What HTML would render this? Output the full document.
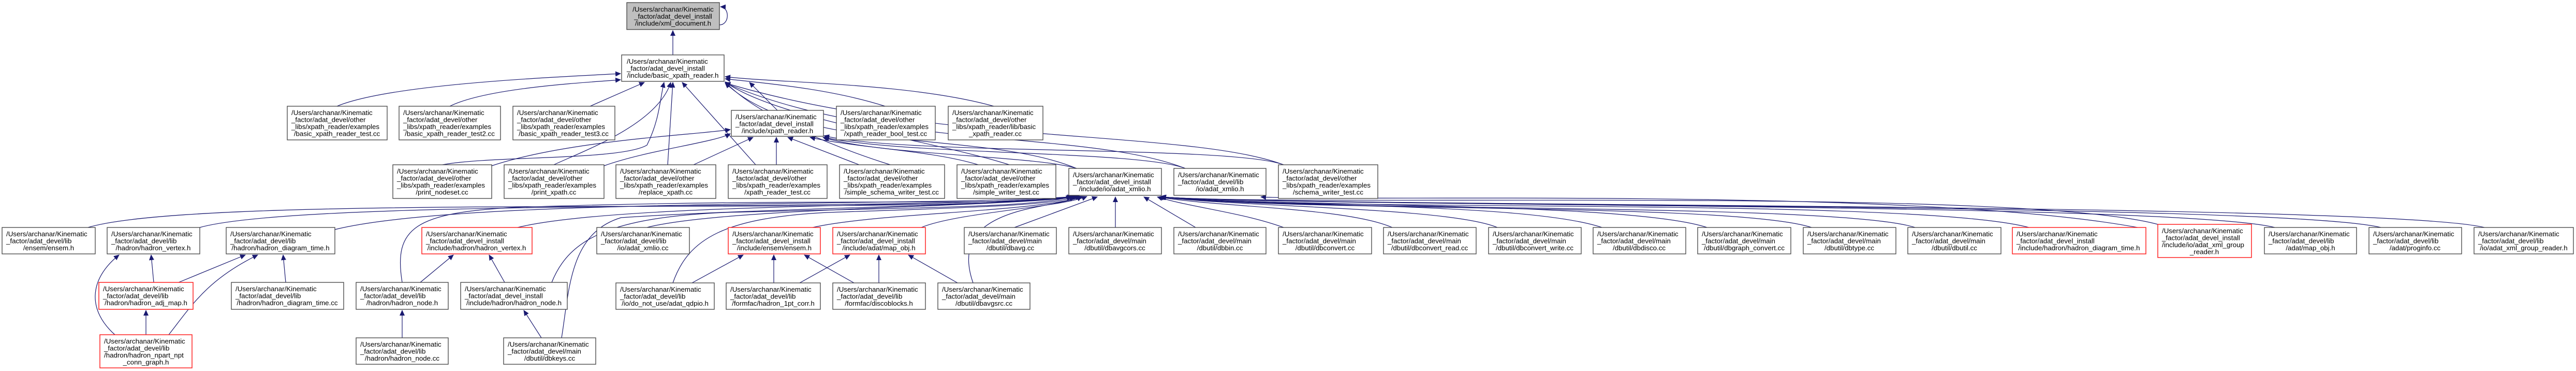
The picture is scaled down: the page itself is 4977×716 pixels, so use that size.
<!DOCTYPE html>
<html><head><meta charset="utf-8"><style>
html,body{margin:0;padding:0;background:#fff}
svg{display:block}
text{font-family:"Liberation Sans",Arial,sans-serif;font-size:13.3px;fill:#000}
.b{fill:#fff;stroke:#404040;stroke-width:1.3}
.r{fill:#fff;stroke:#ff2020;stroke-width:1.5}
.g{fill:#bfbfbf;stroke:#404040;stroke-width:1.3}
.e{fill:none;stroke:#191970;stroke-width:1.2}
</style></head><body>
<svg width="4977" height="716" viewBox="0 0 4977 716" xmlns="http://www.w3.org/2000/svg">
<defs><marker id="a" markerWidth="12" markerHeight="12" refX="10" refY="5" orient="auto" markerUnits="userSpaceOnUse"><path d="M0,0 L11,5 L0,10 Z" fill="#191970"/></marker></defs>
<g class="edges">
<path class="e" marker-end="url(#a)" d="M1300,106 L1300,59"/>
<path class="e" marker-end="url(#a)" d="M1390,48 C1410,48 1410,14 1392,13"/>
<path class="e" marker-end="url(#a)" d="M651,205 C760,160 1100,148 1199,142"/>
<path class="e" marker-end="url(#a)" d="M869,205 C940,170 1120,160 1199,154"/>
<path class="e" marker-end="url(#a)" d="M1140,205 L1245,159"/>
<path class="e" marker-end="url(#a)" d="M1502,213 L1448,159"/>
<path class="e" marker-end="url(#a)" d="M1710,205 C1600,170 1470,160 1401,152"/>
<path class="e" marker-end="url(#a)" d="M1920,205 C1760,160 1500,160 1401,148"/>
<path class="e" marker-end="url(#a)" d="M855,318 C950,300 1200,310 1250,280 C1275,230 1275,190 1283,159"/>
<path class="e" marker-end="url(#a)" d="M1070,318 C1130,290 1270,240 1296,159"/>
<path class="e" marker-end="url(#a)" d="M1290,318 L1300,159"/>
<path class="e" marker-end="url(#a)" d="M1460,318 L1318,159"/>
<path class="e" marker-end="url(#a)" d="M1720,318 C1600,280 1460,220 1401,158"/>
<path class="e" marker-end="url(#a)" d="M1950,318 C1800,270 1500,230 1401,158"/>
<path class="e" marker-end="url(#a)" d="M2080,325 C1900,250 1550,300 1401,160"/>
<path class="e" marker-end="url(#a)" d="M2290,325 C2100,250 1700,290 1401,160"/>
<path class="e" marker-end="url(#a)" d="M2480,318 C2300,250 1800,280 1401,160"/>
<path class="e" marker-end="url(#a)" d="M950,320 C1100,270 1350,260 1411,250"/>
<path class="e" marker-end="url(#a)" d="M1167,320 C1250,290 1380,275 1411,258"/>
<path class="e" marker-end="url(#a)" d="M1340,318 L1455,265"/>
<path class="e" marker-end="url(#a)" d="M1500,318 L1500,265"/>
<path class="e" marker-end="url(#a)" d="M1660,318 L1522,265"/>
<path class="e" marker-end="url(#a)" d="M1890,318 C1800,290 1650,285 1565,265"/>
<path class="e" marker-end="url(#a)" d="M2080,325 C2000,300 1700,300 1590,265"/>
<path class="e" marker-end="url(#a)" d="M2290,325 C2200,290 1750,300 1592,265"/>
<path class="e" marker-end="url(#a)" d="M2480,318 C2380,280 1750,300 1592,262"/>
<path class="e" marker-end="url(#a)" d="M170,439 C400,370 1800,420 2078,379"/>
<path class="e" marker-end="url(#a)" d="M386,439 C600,380 1800,410 2080,379"/>
<path class="e" marker-end="url(#a)" d="M647,443 C900,380 1800,400 2082,379"/>
<path class="e" marker-end="url(#a)" d="M1000,439 C1200,390 1900,400 2085,379"/>
<path class="e" marker-end="url(#a)" d="M1250,439 C1400,400 1950,400 2088,379"/>
<path class="e" marker-end="url(#a)" d="M1570,439 C1700,410 2000,410 2092,379"/>
<path class="e" marker-end="url(#a)" d="M1780,439 C1850,410 2050,400 2100,379"/>
<path class="e" marker-end="url(#a)" d="M1960,439 L2120,380"/>
<path class="e" marker-end="url(#a)" d="M2155,439 L2155,380"/>
<path class="e" marker-end="url(#a)" d="M2310,439 L2210,380"/>
<path class="e" marker-end="url(#a)" d="M2480,439 C2400,410 2300,400 2236,380"/>
<path class="e" marker-end="url(#a)" d="M2690,439 C2600,400 2350,400 2238,380"/>
<path class="e" marker-end="url(#a)" d="M2893,439 C2800,400 2400,400 2240,380"/>
<path class="e" marker-end="url(#a)" d="M3095,439 C2950,390 2450,400 2241,380"/>
<path class="e" marker-end="url(#a)" d="M3298,439 C3150,390 2500,400 2242,380"/>
<path class="e" marker-end="url(#a)" d="M3500,439 C3350,390 2500,410 2242,380"/>
<path class="e" marker-end="url(#a)" d="M3700,439 C3550,390 2500,410 2243,380"/>
<path class="e" marker-end="url(#a)" d="M3920,439 C3700,380 2500,410 2243,380"/>
<path class="e" marker-end="url(#a)" d="M4169,433 C3900,360 2500,400 2243,380"/>
<path class="e" marker-end="url(#a)" d="M4395,439 C4200,390 2500,400 2243,380"/>
<path class="e" marker-end="url(#a)" d="M4600,439 C4400,390 2500,400 2243,380"/>
<path class="e" marker-end="url(#a)" d="M4800,439 C4600,390 2500,400 2243,380"/>
<path class="e" marker-end="url(#a)" d="M4130,439 C3700,360 2600,390 2436,380"/>
<path class="e" marker-end="url(#a)" d="M777,545 C760,440 800,410 1000,400 C1600,380 2000,400 2070,379"/>
<path class="e" marker-end="url(#a)" d="M1066,545 C1100,460 1180,420 1400,410 C1800,400 2000,400 2072,379"/>
<path class="e" marker-end="url(#a)" d="M1300,546 C1330,460 1400,420 1600,410 C1900,400 2050,395 2075,379"/>
<path class="e" marker-end="url(#a)" d="M1880,546 C1850,460 1900,420 2000,400 C2050,390 2080,385 2090,379"/>
<path class="e" marker-end="url(#a)" d="M1085,652 C1100,560 1100,450 1200,420 C1500,400 1900,400 2072,379"/>
<path class="e" marker-end="url(#a)" d="M297,545 L292,492"/>
<path class="e" marker-end="url(#a)" d="M222,646 C170,600 170,540 230,492"/>
<path class="e" marker-end="url(#a)" d="M345,545 L474,492"/>
<path class="e" marker-end="url(#a)" d="M326,646 C370,590 400,540 498,492"/>
<path class="e" marker-end="url(#a)" d="M552,545 L547,492"/>
<path class="e" marker-end="url(#a)" d="M282,646 L282,599"/>
<path class="e" marker-end="url(#a)" d="M812,545 L876,492"/>
<path class="e" marker-end="url(#a)" d="M975,545 L945,492"/>
<path class="e" marker-end="url(#a)" d="M777,652 L777,599"/>
<path class="e" marker-end="url(#a)" d="M1046,652 L1012,599"/>
<path class="e" marker-end="url(#a)" d="M1337,546 L1436,492"/>
<path class="e" marker-end="url(#a)" d="M1495,546 L1495,492"/>
<path class="e" marker-end="url(#a)" d="M1650,546 L1554,492"/>
<path class="e" marker-end="url(#a)" d="M1545,546 L1642,492"/>
<path class="e" marker-end="url(#a)" d="M1698,546 L1698,492"/>
<path class="e" marker-end="url(#a)" d="M1850,546 L1755,492"/>
</g>

<!-- Row 1 -->
<rect class="g" x="1211" y="5" width="179" height="52"/>
<text x="1300.5" y="22.5" text-anchor="middle">/Users/archanar/Kinematic</text>
<text x="1300.5" y="36" text-anchor="middle">_factor/adat_devel_install</text>
<text x="1300.5" y="49.5" text-anchor="middle">/include/xml_document.h</text>

<!-- Row 2 -->
<rect class="b" x="1201" y="106" width="198" height="51"/>
<text x="1211" y="123">/Users/archanar/Kinematic</text>
<text x="1211" y="136.5">_factor/adat_devel_install</text>
<text x="1300" y="150" text-anchor="middle">/include/basic_xpath_reader.h</text>

<!-- Row 3 -->
<rect class="b" x="555" y="205" width="193" height="65"/>
<text x="563" y="222">/Users/archanar/Kinematic</text><text x="563" y="235.5">_factor/adat_devel/other</text><text x="563" y="249">_libs/xpath_reader/examples</text><text x="651" y="262.5" text-anchor="middle">/basic_xpath_reader_test.cc</text>
<rect class="b" x="771" y="205" width="196" height="65"/>
<text x="779" y="222">/Users/archanar/Kinematic</text><text x="779" y="235.5">_factor/adat_devel/other</text><text x="779" y="249">_libs/xpath_reader/examples</text><text x="869" y="262.5" text-anchor="middle">/basic_xpath_reader_test2.cc</text>
<rect class="b" x="991" y="205" width="197" height="65"/>
<text x="999" y="222">/Users/archanar/Kinematic</text><text x="999" y="235.5">_factor/adat_devel/other</text><text x="999" y="249">_libs/xpath_reader/examples</text><text x="1089" y="262.5" text-anchor="middle">/basic_xpath_reader_test3.cc</text>
<rect class="b" x="1413" y="213" width="178" height="50"/>
<text x="1421" y="230">/Users/archanar/Kinematic</text><text x="1421" y="243.5">_factor/adat_devel_install</text><text x="1502" y="257" text-anchor="middle">/include/xpath_reader.h</text>
<rect class="b" x="1616" y="205" width="191" height="65"/>
<text x="1624" y="222">/Users/archanar/Kinematic</text><text x="1624" y="235.5">_factor/adat_devel/other</text><text x="1624" y="249">_libs/xpath_reader/examples</text><text x="1711" y="262.5" text-anchor="middle">/xpath_reader_bool_test.cc</text>
<rect class="b" x="1832" y="205" width="183" height="65"/>
<text x="1840" y="222">/Users/archanar/Kinematic</text><text x="1840" y="235.5">_factor/adat_devel/other</text><text x="1840" y="249">_libs/xpath_reader/lib/basic</text><text x="1923" y="262.5" text-anchor="middle">_xpath_reader.cc</text>

<!-- Row 4 -->
<rect class="b" x="759" y="318" width="191" height="65"/>
<text x="767" y="335">/Users/archanar/Kinematic</text><text x="767" y="348.5">_factor/adat_devel/other</text><text x="767" y="362">_libs/xpath_reader/examples</text><text x="854" y="375.5" text-anchor="middle">/print_nodeset.cc</text>
<rect class="b" x="974" y="318" width="193" height="65"/>
<text x="982" y="335">/Users/archanar/Kinematic</text><text x="982" y="348.5">_factor/adat_devel/other</text><text x="982" y="362">_libs/xpath_reader/examples</text><text x="1070" y="375.5" text-anchor="middle">/print_xpath.cc</text>
<rect class="b" x="1190" y="318" width="193" height="65"/>
<text x="1198" y="335">/Users/archanar/Kinematic</text><text x="1198" y="348.5">_factor/adat_devel/other</text><text x="1198" y="362">_libs/xpath_reader/examples</text><text x="1286" y="375.5" text-anchor="middle">/replace_xpath.cc</text>
<rect class="b" x="1407" y="318" width="191" height="65"/>
<text x="1415" y="335">/Users/archanar/Kinematic</text><text x="1415" y="348.5">_factor/adat_devel/other</text><text x="1415" y="362">_libs/xpath_reader/examples</text><text x="1502" y="375.5" text-anchor="middle">/xpath_reader_test.cc</text>
<rect class="b" x="1622" y="318" width="203" height="65"/>
<text x="1630" y="335">/Users/archanar/Kinematic</text><text x="1630" y="348.5">_factor/adat_devel/other</text><text x="1630" y="362">_libs/xpath_reader/examples</text><text x="1723" y="375.5" text-anchor="middle">/simple_schema_writer_test.cc</text>
<rect class="b" x="1849" y="318" width="191" height="65"/>
<text x="1857" y="335">/Users/archanar/Kinematic</text><text x="1857" y="348.5">_factor/adat_devel/other</text><text x="1857" y="362">_libs/xpath_reader/examples</text><text x="1944" y="375.5" text-anchor="middle">/simple_writer_test.cc</text>
<rect class="b" x="2065" y="325" width="179" height="52"/>
<text x="2073" y="342">/Users/archanar/Kinematic</text><text x="2073" y="355.5">_factor/adat_devel_install</text><text x="2154" y="369" text-anchor="middle">/include/io/adat_xmlio.h</text>
<rect class="b" x="2268" y="325" width="178" height="52"/>
<text x="2276" y="342">/Users/archanar/Kinematic</text><text x="2276" y="355.5">_factor/adat_devel/lib</text><text x="2357" y="369" text-anchor="middle">/io/adat_xmlio.h</text>
<rect class="b" x="2470" y="318" width="192" height="65"/>
<text x="2478" y="335">/Users/archanar/Kinematic</text><text x="2478" y="348.5">_factor/adat_devel/other</text><text x="2478" y="362">_libs/xpath_reader/examples</text><text x="2566" y="375.5" text-anchor="middle">/schema_writer_test.cc</text>

<!-- Row 5 -->
<rect class="b" x="4" y="439" width="180" height="51"/>
<text x="12" y="456">/Users/archanar/Kinematic</text><text x="12" y="469.5">_factor/adat_devel/lib</text><text x="94" y="483" text-anchor="middle">/ensem/ensem.h</text>
<rect class="b" x="207" y="439" width="179" height="51"/>
<text x="215" y="456">/Users/archanar/Kinematic</text><text x="215" y="469.5">_factor/adat_devel/lib</text><text x="296" y="483" text-anchor="middle">/hadron/hadron_vertex.h</text>
<rect class="b" x="437" y="439" width="210" height="51"/>
<text x="445" y="456">/Users/archanar/Kinematic</text><text x="445" y="469.5">_factor/adat_devel/lib</text><text x="542" y="483" text-anchor="middle">/hadron/hadron_diagram_time.h</text>
<rect class="r" x="815" y="439" width="213" height="51"/>
<text x="823" y="456">/Users/archanar/Kinematic</text><text x="823" y="469.5">_factor/adat_devel_install</text><text x="921" y="483" text-anchor="middle">/include/hadron/hadron_vertex.h</text>
<rect class="b" x="1153" y="439" width="179" height="51"/>
<text x="1161" y="456">/Users/archanar/Kinematic</text><text x="1161" y="469.5">_factor/adat_devel/lib</text><text x="1242" y="483" text-anchor="middle">/io/adat_xmlio.cc</text>
<rect class="r" x="1407" y="439" width="178" height="51"/>
<text x="1415" y="456">/Users/archanar/Kinematic</text><text x="1415" y="469.5">_factor/adat_devel_install</text><text x="1496" y="483" text-anchor="middle">/include/ensem/ensem.h</text>
<rect class="r" x="1609" y="439" width="179" height="51"/>
<text x="1617" y="456">/Users/archanar/Kinematic</text><text x="1617" y="469.5">_factor/adat_devel_install</text><text x="1698" y="483" text-anchor="middle">/include/adat/map_obj.h</text>
<rect class="b" x="1863" y="439" width="178" height="51"/>
<text x="1871" y="456">/Users/archanar/Kinematic</text><text x="1871" y="469.5">_factor/adat_devel/main</text><text x="1952" y="483" text-anchor="middle">/dbutil/dbavg.cc</text>
<rect class="b" x="2065" y="439" width="179" height="51"/>
<text x="2073" y="456">/Users/archanar/Kinematic</text><text x="2073" y="469.5">_factor/adat_devel/main</text><text x="2154" y="483" text-anchor="middle">/dbutil/dbavgcors.cc</text>
<rect class="b" x="2268" y="439" width="178" height="51"/>
<text x="2276" y="456">/Users/archanar/Kinematic</text><text x="2276" y="469.5">_factor/adat_devel/main</text><text x="2357" y="483" text-anchor="middle">/dbutil/dbbin.cc</text>
<rect class="b" x="2470" y="439" width="180" height="51"/>
<text x="2478" y="456">/Users/archanar/Kinematic</text><text x="2478" y="469.5">_factor/adat_devel/main</text><text x="2560" y="483" text-anchor="middle">/dbutil/dbconvert.cc</text>
<rect class="b" x="2673" y="439" width="179" height="51"/>
<text x="2681" y="456">/Users/archanar/Kinematic</text><text x="2681" y="469.5">_factor/adat_devel/main</text><text x="2762" y="483" text-anchor="middle">/dbutil/dbconvert_read.cc</text>
<rect class="b" x="2876" y="439" width="179" height="51"/>
<text x="2884" y="456">/Users/archanar/Kinematic</text><text x="2884" y="469.5">_factor/adat_devel/main</text><text x="2965" y="483" text-anchor="middle">/dbutil/dbconvert_write.cc</text>
<rect class="b" x="3078" y="439" width="179" height="51"/>
<text x="3086" y="456">/Users/archanar/Kinematic</text><text x="3086" y="469.5">_factor/adat_devel/main</text><text x="3167" y="483" text-anchor="middle">/dbutil/dbdisco.cc</text>
<rect class="b" x="3280" y="439" width="180" height="51"/>
<text x="3288" y="456">/Users/archanar/Kinematic</text><text x="3288" y="469.5">_factor/adat_devel/main</text><text x="3370" y="483" text-anchor="middle">/dbutil/dbgraph_convert.cc</text>
<rect class="b" x="3484" y="439" width="179" height="51"/>
<text x="3492" y="456">/Users/archanar/Kinematic</text><text x="3492" y="469.5">_factor/adat_devel/main</text><text x="3573" y="483" text-anchor="middle">/dbutil/dbtype.cc</text>
<rect class="b" x="3686" y="439" width="180" height="51"/>
<text x="3694" y="456">/Users/archanar/Kinematic</text><text x="3694" y="469.5">_factor/adat_devel/main</text><text x="3776" y="483" text-anchor="middle">/dbutil/dbutil.cc</text>
<rect class="r" x="3888" y="439" width="258" height="51"/>
<text x="3896" y="456">/Users/archanar/Kinematic</text><text x="3896" y="469.5">_factor/adat_devel_install</text><text x="4017" y="483" text-anchor="middle">/include/hadron/hadron_diagram_time.h</text>
<rect class="r" x="4169" y="433" width="181" height="64"/>
<text x="4177" y="450">/Users/archanar/Kinematic</text><text x="4177" y="463.5">_factor/adat_devel_install</text><text x="4177" y="477">/include/io/adat_xml_group</text><text x="4259" y="490.5" text-anchor="middle">_reader.h</text>
<rect class="b" x="4375" y="439" width="178" height="51"/>
<text x="4383" y="456">/Users/archanar/Kinematic</text><text x="4383" y="469.5">_factor/adat_devel/lib</text><text x="4464" y="483" text-anchor="middle">/adat/map_obj.h</text>
<rect class="b" x="4577" y="439" width="179" height="51"/>
<text x="4585" y="456">/Users/archanar/Kinematic</text><text x="4585" y="469.5">_factor/adat_devel/lib</text><text x="4666" y="483" text-anchor="middle">/adat/proginfo.cc</text>
<rect class="b" x="4780" y="439" width="192" height="51"/>
<text x="4788" y="456">/Users/archanar/Kinematic</text><text x="4788" y="469.5">_factor/adat_devel/lib</text><text x="4876" y="483" text-anchor="middle">/io/adat_xml_group_reader.h</text>

<!-- Row 6 -->
<rect class="r" x="191" y="545" width="182" height="52"/>
<text x="199" y="562">/Users/archanar/Kinematic</text><text x="199" y="575.5">_factor/adat_devel/lib</text><text x="282" y="589" text-anchor="middle">/hadron/hadron_adj_map.h</text>
<rect class="b" x="447" y="545" width="217" height="52"/>
<text x="455" y="562">/Users/archanar/Kinematic</text><text x="455" y="575.5">_factor/adat_devel/lib</text><text x="555" y="589" text-anchor="middle">/hadron/hadron_diagram_time.cc</text>
<rect class="b" x="688" y="545" width="178" height="52"/>
<text x="696" y="562">/Users/archanar/Kinematic</text><text x="696" y="575.5">_factor/adat_devel/lib</text><text x="777" y="589" text-anchor="middle">/hadron/hadron_node.h</text>
<rect class="b" x="890" y="545" width="206" height="52"/>
<text x="898" y="562">/Users/archanar/Kinematic</text><text x="898" y="575.5">_factor/adat_devel_install</text><text x="993" y="589" text-anchor="middle">/include/hadron/hadron_node.h</text>
<rect class="b" x="1190" y="546" width="190" height="51"/>
<text x="1198" y="563">/Users/archanar/Kinematic</text><text x="1198" y="576.5">_factor/adat_devel/lib</text><text x="1285" y="590" text-anchor="middle">/io/do_not_use/adat_qdpio.h</text>
<rect class="b" x="1403" y="546" width="182" height="51"/>
<text x="1411" y="563">/Users/archanar/Kinematic</text><text x="1411" y="576.5">_factor/adat_devel/lib</text><text x="1494" y="590" text-anchor="middle">/formfac/hadron_1pt_corr.h</text>
<rect class="b" x="1609" y="546" width="179" height="51"/>
<text x="1617" y="563">/Users/archanar/Kinematic</text><text x="1617" y="576.5">_factor/adat_devel/lib</text><text x="1698" y="590" text-anchor="middle">/formfac/discoblocks.h</text>
<rect class="b" x="1812" y="546" width="178" height="51"/>
<text x="1820" y="563">/Users/archanar/Kinematic</text><text x="1820" y="576.5">_factor/adat_devel/main</text><text x="1901" y="590" text-anchor="middle">/dbutil/dbavgsrc.cc</text>

<!-- Row 7 -->
<rect class="r" x="193" y="646" width="178" height="64"/>
<text x="201" y="663">/Users/archanar/Kinematic</text><text x="201" y="676.5">_factor/adat_devel/lib</text><text x="201" y="690">/hadron/hadron_npart_npt</text><text x="282" y="703.5" text-anchor="middle">_conn_graph.h</text>
<rect class="b" x="688" y="652" width="178" height="51"/>
<text x="696" y="669">/Users/archanar/Kinematic</text><text x="696" y="682.5">_factor/adat_devel/lib</text><text x="777" y="696" text-anchor="middle">/hadron/hadron_node.cc</text>
<rect class="b" x="973" y="652" width="178" height="51"/>
<text x="981" y="669">/Users/archanar/Kinematic</text><text x="981" y="682.5">_factor/adat_devel/main</text><text x="1062" y="696" text-anchor="middle">/dbutil/dbkeys.cc</text>
</svg>
</body></html>
